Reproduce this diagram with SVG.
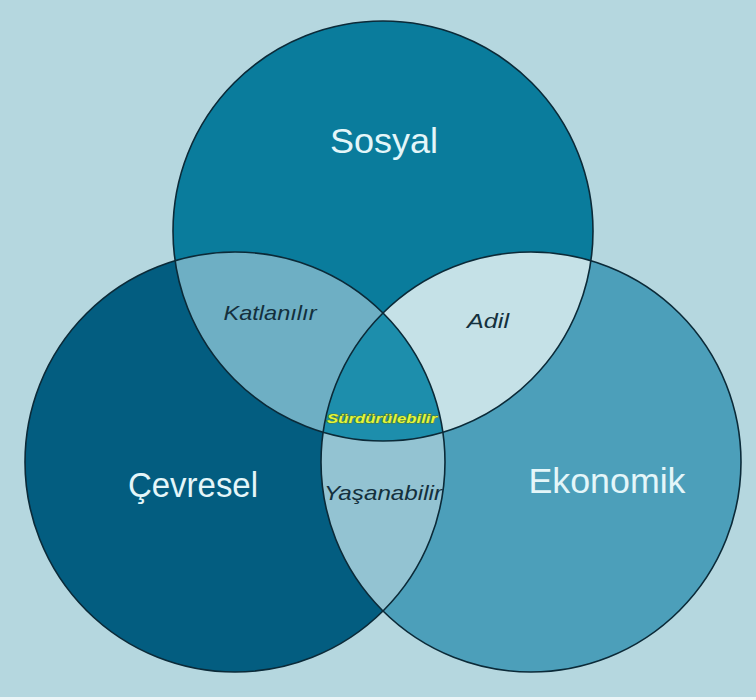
<svg xmlns="http://www.w3.org/2000/svg" width="756" height="700" viewBox="0 0 756 700">
  <style>
    .outline { fill: none; stroke: #0b2a38; stroke-width: 1.6; }
    .main { font-family: "Liberation Sans", Arial, sans-serif; font-size: 35px; fill: #e4f6f9; text-anchor: middle; }
    .sub { font-family: "Liberation Sans", Arial, sans-serif; font-size: 21px; font-style: italic; fill: #14303d; text-anchor: middle; }
    .core { font-family: "Liberation Sans", Arial, sans-serif; font-size: 12.5px; font-style: italic; font-weight: bold; fill: #e2f63c; stroke: #4a7a3a; stroke-width: 1.2; paint-order: stroke; text-anchor: middle; }
  </style>
  <defs>
    <clipPath id="cS"><circle cx="383" cy="231" r="210"/></clipPath>
    <clipPath id="cC"><circle cx="235" cy="462" r="210"/></clipPath>
    <clipPath id="cE"><circle cx="531" cy="462" r="210"/></clipPath>
  </defs>
  <rect x="0" y="0" width="756" height="700" fill="#b5d7df"/>
  <rect x="0" y="697" width="756" height="3" fill="#eef6f8"/>

  <g id="sosyal">
    <circle cx="383" cy="231" r="210" fill="#0a7c9c"/>
  </g>
  <g id="cevresel">
    <circle cx="235" cy="462" r="210" fill="#035d80"/>
  </g>
  <g id="ekonomik">
    <circle cx="531" cy="462" r="210" fill="#4c9fba"/>
  </g>
  <g id="katlanilir">
    <circle cx="235" cy="462" r="210" fill="#6eafc4" clip-path="url(#cS)"/>
  </g>
  <g id="adil">
    <circle cx="531" cy="462" r="210" fill="#c5e1e7" clip-path="url(#cS)"/>
  </g>
  <g id="yasanabilir">
    <circle cx="531" cy="462" r="210" fill="#93c3d2" clip-path="url(#cC)"/>
  </g>
  <g id="surdurulebilir">
    <g clip-path="url(#cE)">
      <circle cx="383" cy="231" r="210" fill="#1d8eac" clip-path="url(#cC)"/>
    </g>
  </g>

  <g id="outlines">
    <circle class="outline" cx="383" cy="231" r="210"/>
    <circle class="outline" cx="235" cy="462" r="210"/>
    <circle class="outline" cx="531" cy="462" r="210"/>
  </g>

  <g id="labels">
    <text class="main" x="384" y="153" textLength="108" lengthAdjust="spacingAndGlyphs">Sosyal</text>
    <text class="main" x="193" y="497" textLength="130" lengthAdjust="spacingAndGlyphs">Çevresel</text>
    <text class="main" x="607" y="493" textLength="157" lengthAdjust="spacingAndGlyphs">Ekonomik</text>
    <text class="sub" x="270" y="320" textLength="93" lengthAdjust="spacingAndGlyphs">Katlanılır</text>
    <text class="sub" x="488" y="328" textLength="42" lengthAdjust="spacingAndGlyphs">Adil</text>
    <text class="sub" x="383" y="500" textLength="118" lengthAdjust="spacingAndGlyphs">Yaşanabilir</text>
    <text class="core" x="382" y="423" textLength="110" lengthAdjust="spacingAndGlyphs">Sürdürülebilir</text>
  </g>
</svg>
